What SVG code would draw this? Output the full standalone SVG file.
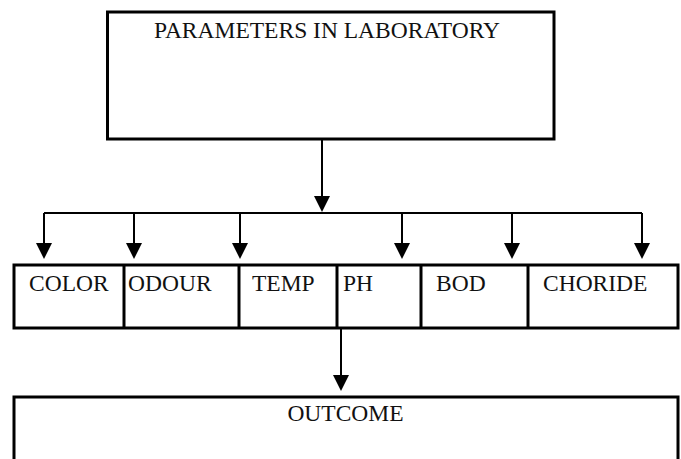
<svg xmlns="http://www.w3.org/2000/svg" width="681" height="459" viewBox="0 0 681 459">
  <style>
    .box { fill: #fff; stroke: #000; stroke-width: 3; }
    .div { stroke: #000; stroke-width: 3; }
    .lbl { font-family: "Liberation Serif", "Times New Roman", serif; font-size: 23.5px; fill: #111; }
    .conn { fill: none; stroke: #000; stroke-width: 2; }
  </style>
  <defs>
    <marker id="arrow" viewBox="0 0 16 16" refX="8" refY="8" markerWidth="16" markerHeight="16" markerUnits="userSpaceOnUse" orient="auto">
      <path d="M0,0 L16,8 L0,16 z" fill="#000"/>
    </marker>
  </defs>

  <!-- top node -->
  <g id="parameters">
    <rect class="box" x="107.5" y="12" width="446.5" height="127"/>
    <text class="lbl" x="327" y="38" text-anchor="middle" font-size="24">PARAMETERS IN LABORATORY</text>
  </g>

  <!-- row of parameter cells -->
  <g id="row">
    <rect class="box" x="14" y="265" width="664" height="63"/>
  </g>
  <g id="color">
    <text class="lbl" x="29" y="291">COLOR</text>
  </g>
  <g id="odour">
    <line class="div" x1="124" y1="265" x2="124" y2="328"/>
    <text class="lbl" x="128" y="291">ODOUR</text>
  </g>
  <g id="temp">
    <line class="div" x1="239" y1="265" x2="239" y2="328"/>
    <text class="lbl" x="252" y="291">TEMP</text>
  </g>
  <g id="ph">
    <line class="div" x1="337" y1="265" x2="337" y2="328"/>
    <text class="lbl" x="343" y="291">PH</text>
  </g>
  <g id="bod">
    <line class="div" x1="421" y1="265" x2="421" y2="328"/>
    <text class="lbl" x="436" y="291">BOD</text>
  </g>
  <g id="choride">
    <line class="div" x1="528" y1="265" x2="528" y2="328"/>
    <text class="lbl" x="543" y="291">CHORIDE</text>
  </g>

  <!-- bottom node -->
  <g id="outcome">
    <rect class="box" x="14" y="397" width="664" height="80"/>
    <text class="lbl" x="345.5" y="421" text-anchor="middle">OUTCOME</text>
  </g>

  <!-- connectors -->
  <g id="connectors">
    <path class="conn" d="M322,139 V204" marker-end="url(#arrow)"/>
    <path class="conn" d="M44,213 H642"/>
    <path class="conn" d="M44,213 V251" marker-end="url(#arrow)"/>
    <path class="conn" d="M134,213 V251" marker-end="url(#arrow)"/>
    <path class="conn" d="M240,213 V251" marker-end="url(#arrow)"/>
    <path class="conn" d="M402,213 V251" marker-end="url(#arrow)"/>
    <path class="conn" d="M512,213 V251" marker-end="url(#arrow)"/>
    <path class="conn" d="M642,213 V251" marker-end="url(#arrow)"/>
    <path class="conn" d="M341,328 V383" marker-end="url(#arrow)"/>
  </g>
</svg>
